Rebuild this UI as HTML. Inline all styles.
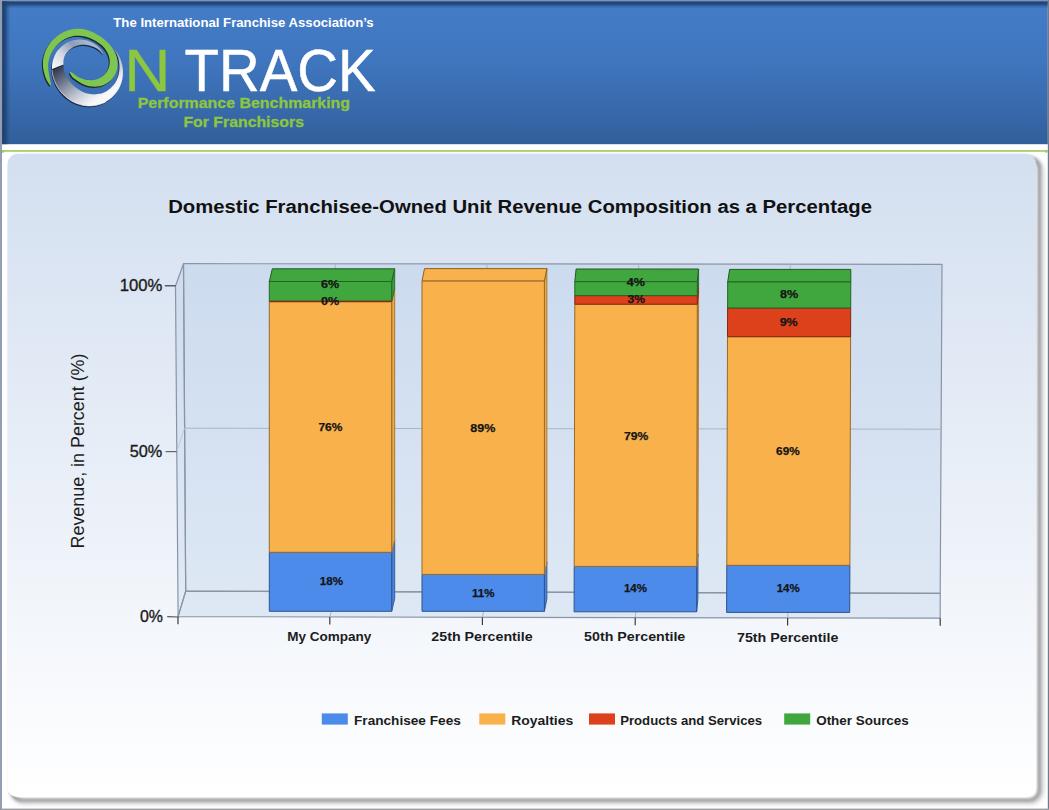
<!DOCTYPE html>
<html><head><meta charset="utf-8"><title>On Track</title>
<style>
html,body{margin:0;padding:0;background:#fff;}
body{width:1049px;height:810px;overflow:hidden;position:relative;font-family:"Liberation Sans",sans-serif;}
svg text{font-family:"Liberation Sans",sans-serif;}
</style></head><body>
<svg width="1049" height="810" viewBox="0 0 1049 810" style="position:absolute;left:0;top:0">
<defs>
<linearGradient id="hdr" x1="0" y1="0" x2="0" y2="1"><stop offset="0" stop-color="#447dc8"/><stop offset="0.45" stop-color="#3f75bd"/><stop offset="1" stop-color="#325f9c"/></linearGradient>
<linearGradient id="hdrTop" x1="0" y1="0" x2="0" y2="1"><stop offset="0" stop-color="#204574" stop-opacity="0.55"/><stop offset="0.14" stop-color="#204574" stop-opacity="1"/><stop offset="0.36" stop-color="#204574" stop-opacity="0.93"/><stop offset="0.7" stop-color="#204574" stop-opacity="0.33"/><stop offset="1" stop-color="#204574" stop-opacity="0"/></linearGradient>
<linearGradient id="hdrLeft" x1="0" y1="0" x2="1" y2="0"><stop offset="0" stop-color="#1f4272" stop-opacity="0.7"/><stop offset="0.2" stop-color="#1f4272" stop-opacity="1"/><stop offset="0.38" stop-color="#1f4272" stop-opacity="0.9"/><stop offset="0.7" stop-color="#1f4272" stop-opacity="0.33"/><stop offset="1" stop-color="#1f4272" stop-opacity="0"/></linearGradient>
<linearGradient id="panel" x1="0" y1="0" x2="0" y2="1"><stop offset="0" stop-color="#d3dff0"/><stop offset="1" stop-color="#ffffff"/></linearGradient>
<filter id="sh" x="-5%" y="-5%" width="110%" height="110%"><feGaussianBlur stdDeviation="1.5"/></filter>
<filter id="sh2" x="-5%" y="-5%" width="110%" height="110%"><feGaussianBlur stdDeviation="2"/></filter>
<linearGradient id="silverTop" gradientUnits="userSpaceOnUse" x1="54" y1="68" x2="84" y2="38"><stop offset="0" stop-color="#f6f7f9"/><stop offset="0.35" stop-color="#d4dae3"/><stop offset="0.7" stop-color="#8f9cb3"/><stop offset="1" stop-color="#a9b8d0"/></linearGradient>
<linearGradient id="silverBot" gradientUnits="userSpaceOnUse" x1="57" y1="66" x2="88" y2="108"><stop offset="0" stop-color="#2b3447"/><stop offset="0.22" stop-color="#596277"/><stop offset="0.45" stop-color="#8f98a9"/><stop offset="0.7" stop-color="#c6ccd6"/><stop offset="0.9" stop-color="#eceef2"/><stop offset="1" stop-color="#f7f8fa"/></linearGradient>
<filter id="lsh" x="-10%" y="-10%" width="120%" height="120%"><feGaussianBlur stdDeviation="0.55"/></filter>
</defs>
<rect x="0" y="0" width="1049" height="810" fill="#ffffff"/>
<rect x="1.5" y="0.8" width="1046.3" height="143.4" fill="url(#hdr)"/>
<rect x="1.5" y="1.2" width="1046.3" height="7.4" fill="url(#hdrTop)"/>
<rect x="1.8" y="0.8" width="8.7" height="143.4" fill="url(#hdrLeft)"/>
<rect x="0" y="0" width="1049" height="1.1" fill="#8392ae"/>
<rect x="0" y="0" width="2.0" height="810" fill="#959eb1"/>
<rect x="1047.8" y="0" width="1.2" height="810" fill="#717a8c"/>
<rect x="0" y="808.6" width="1049" height="1.4" fill="#9a9ca1"/>
<rect x="2.0" y="150.2" width="1045.8" height="1.5" fill="#93c753"/>
<rect x="2.0" y="150.2" width="1.6" height="2.6" fill="#93c753"/>
<rect x="1045.6" y="150.2" width="1.6" height="2.6" fill="#93c753"/>
<rect x="13" y="159.5" width="1028.6" height="642.8" rx="11.5" ry="11.5" fill="none" stroke="#c9c9cd" stroke-width="3.6" filter="url(#sh2)"/>
<rect x="11.5" y="158" width="1027.8" height="642.1" rx="10.5" ry="10.5" fill="none" stroke="#98989c" stroke-width="3.4" filter="url(#sh)"/>
<rect x="7.5" y="153.8" width="1028.6" height="643.4" rx="10" ry="10" fill="url(#panel)"/>
<g stroke-linejoin="round">
<polygon points="183.5,263.7 942.0,264.3 940.2,593.4 185.7,591.1" fill="rgba(165,191,228,0.25)" stroke="#8a94a6" stroke-width="1.2"/>
<polygon points="175.5,286.0 183.5,263.7 185.7,591.1 178.1,616.6" fill="rgba(165,191,228,0.22)" stroke="#8a94a6" stroke-width="1.2"/>
<polygon points="185.7,591.1 940.2,593.4 940.2,618.2 178.1,616.6" fill="rgba(165,191,228,0.25)" stroke="#8a94a6" stroke-width="1.2"/>
<g stroke="#aab4c4" stroke-width="1" fill="none">
<line x1="184.4" y1="428.2" x2="941.1" y2="429.2"/>
<line x1="176.8" y1="451.5" x2="184.4" y2="428.2" stroke="#c0c8d6"/>
<line x1="335.2" y1="263.8" x2="336.6" y2="591.6"/>
<line x1="336.6" y1="591.6" x2="329.8" y2="616.9"/>
<line x1="486.9" y1="263.9" x2="487.5" y2="592.0"/>
<line x1="487.5" y1="592.0" x2="482.4" y2="617.2"/>
<line x1="638.6" y1="264.1" x2="638.4" y2="592.5"/>
<line x1="638.4" y1="592.5" x2="635.2" y2="617.6"/>
<line x1="790.3" y1="264.2" x2="789.3" y2="592.9"/>
<line x1="789.3" y1="592.9" x2="787.6" y2="617.9"/>
</g>
</g>
<g stroke="#3a3a3a" stroke-width="1.2">
<line x1="164.8" y1="285.8" x2="175.6" y2="285.8"/>
<line x1="165.5" y1="451.6" x2="176.8" y2="451.6" stroke="#666"/>
<line x1="167.2" y1="616.6" x2="178.1" y2="617.0" stroke="#555"/>
<line x1="178.0" y1="616.8" x2="178.0" y2="624.3"/>
<line x1="329.8" y1="617.1" x2="329.8" y2="624.6"/>
<line x1="482.4" y1="617.4" x2="482.4" y2="624.9"/>
<line x1="635.2" y1="617.7" x2="635.2" y2="625.2"/>
<line x1="787.6" y1="618.0" x2="787.6" y2="625.5"/>
<line x1="940.2" y1="618.3" x2="940.2" y2="625.8"/>
</g>
<g stroke-width="1" stroke-linejoin="round">
<polygon points="391.7,552.3 394.7,539.6 394.7,598.6 391.7,611.3" fill="#4884de" stroke="#3561a3"/>
<polygon points="391.7,301.3 394.7,288.6 394.7,539.6 391.7,552.3" fill="#eca847" stroke="#ae7b34"/>
<polygon points="391.7,281.5 394.7,268.8 394.7,288.6 391.7,301.3" fill="#3c9e3b" stroke="#2c742c"/>
<polygon points="269.3,281.5 272.3,268.8 394.7,268.8 391.7,281.5" fill="#40a73f" stroke="#235b22"/>
<polygon points="269.3,552.3 391.7,552.3 391.7,611.3 269.3,611.3" fill="#4c8bea" stroke="#2d538c"/>
<polygon points="269.3,301.3 391.7,301.3 391.7,552.3 269.3,552.3" fill="#f9b14b" stroke="#956a2d"/>
<polygon points="269.3,281.5 391.7,281.5 391.7,301.3 269.3,301.3" fill="#40a73f" stroke="#266425"/>
<line x1="269.8" y1="301.5" x2="391.2" y2="301.5" stroke="#892811" stroke-width="1.4"/>
<polygon points="544.4,574.4 546.9,561.9 546.9,598.8 544.4,611.3" fill="#4884de" stroke="#3561a3"/>
<polygon points="544.4,281.1 546.9,268.6 546.9,561.9 544.4,574.4" fill="#eca847" stroke="#ae7b34"/>
<polygon points="422.0,281.1 424.5,268.6 546.9,268.6 544.4,281.1" fill="#f9b14b" stroke="#886129"/>
<polygon points="422.0,574.4 544.4,574.4 544.4,611.3 422.0,611.3" fill="#4c8bea" stroke="#2d538c"/>
<polygon points="422.0,281.1 544.4,281.1 544.4,574.4 422.0,574.4" fill="#f9b14b" stroke="#956a2d"/>
<polygon points="696.7,566.4 698.0,553.7 697.9,599.1 696.6,611.8" fill="#4884de" stroke="#3561a3"/>
<polygon points="697.3,304.2 698.6,291.5 698.0,553.7 696.7,566.4" fill="#eca847" stroke="#ae7b34"/>
<polygon points="697.3,295.6 698.6,282.9 698.6,291.5 697.3,304.2" fill="#d13d1a" stroke="#9a2d13"/>
<polygon points="697.3,281.7 698.6,269.0 698.6,282.9 697.3,295.6" fill="#3c9e3b" stroke="#2c742c"/>
<polygon points="574.8,281.7 576.1,269.0 698.6,269.0 697.3,281.7" fill="#40a73f" stroke="#235b22"/>
<polygon points="574.2,566.4 696.7,566.4 696.6,611.8 574.1,611.8" fill="#4c8bea" stroke="#2d538c"/>
<polygon points="574.8,304.2 697.3,304.2 696.7,566.4 574.2,566.4" fill="#f9b14b" stroke="#956a2d"/>
<polygon points="574.8,295.6 697.3,295.6 697.3,304.2 574.8,304.2" fill="#dd411c" stroke="#842710"/>
<polygon points="574.8,281.7 697.3,281.7 697.3,295.6 574.8,295.6" fill="#40a73f" stroke="#266425"/>
<polygon points="727.7,282.0 729.6,269.4 850.8,269.4 850.8,282.0" fill="#40a73f" stroke="#235b22"/>
<polygon points="726.8,565.3 849.9,565.3 849.7,612.4 726.6,612.4" fill="#4c8bea" stroke="#2d538c"/>
<polygon points="727.5,336.7 850.6,336.7 849.9,565.3 726.8,565.3" fill="#f9b14b" stroke="#956a2d"/>
<polygon points="727.6,308.0 850.7,308.0 850.6,336.7 727.5,336.7" fill="#dd411c" stroke="#842710"/>
<polygon points="727.7,282.0 850.8,282.0 850.7,308.0 727.6,308.0" fill="#40a73f" stroke="#266425"/>
</g>
<g font-family="Liberation Sans, sans-serif" font-weight="bold" font-size="11.3px" fill="#151515" stroke="#151515" stroke-width="0.25" text-anchor="middle">
<text x="330.2" y="288.2" textLength="18.2" lengthAdjust="spacingAndGlyphs">6%</text>
<text x="330.2" y="304.6" textLength="18.2" lengthAdjust="spacingAndGlyphs">0%</text>
<text x="330.4" y="431.0" textLength="24.0" lengthAdjust="spacingAndGlyphs">76%</text>
<text x="331.5" y="584.9" textLength="23.3" lengthAdjust="spacingAndGlyphs">18%</text>
<text x="482.9" y="432.0" textLength="25.1" lengthAdjust="spacingAndGlyphs">89%</text>
<text x="483.2" y="596.5" textLength="22.6" lengthAdjust="spacingAndGlyphs">11%</text>
<text x="635.9" y="286.1" textLength="18.2" lengthAdjust="spacingAndGlyphs">4%</text>
<text x="636.2" y="303.1" textLength="17.6" lengthAdjust="spacingAndGlyphs">3%</text>
<text x="636.1" y="439.5" textLength="24.3" lengthAdjust="spacingAndGlyphs">79%</text>
<text x="635.5" y="592.0" textLength="23.1" lengthAdjust="spacingAndGlyphs">14%</text>
<text x="789.0" y="298.3" textLength="18.2" lengthAdjust="spacingAndGlyphs">8%</text>
<text x="788.7" y="326.0" textLength="18.1" lengthAdjust="spacingAndGlyphs">9%</text>
<text x="787.9" y="455.0" textLength="23.6" lengthAdjust="spacingAndGlyphs">69%</text>
<text x="788.2" y="592.0" textLength="23.0" lengthAdjust="spacingAndGlyphs">14%</text>
</g>
<text x="520.1" y="213.3" font-family="Liberation Sans, sans-serif" font-weight="bold" font-size="18px" fill="#111" text-anchor="middle" textLength="703.8" lengthAdjust="spacingAndGlyphs">Domestic Franchisee-Owned Unit Revenue Composition as a Percentage</text>
<g font-family="Liberation Sans, sans-serif" font-size="16.5px" fill="#1c1c1c" text-anchor="end" stroke="#1c1c1c" stroke-width="0.35">
<text x="162.3" y="291.1" textLength="42.6" lengthAdjust="spacingAndGlyphs">100%</text>
<text x="162.3" y="457" textLength="32.6" lengthAdjust="spacingAndGlyphs">50%</text>
<text x="163" y="622.3" textLength="23.0" lengthAdjust="spacingAndGlyphs">0%</text>
</g>
<text transform="translate(84.4,451) rotate(-90)" font-family="Liberation Sans, sans-serif" font-size="17.9px" fill="#1c1c1c" text-anchor="middle">Revenue, in Percent (%)</text>
<g font-family="Liberation Sans, sans-serif" font-weight="bold" font-size="12.5px" fill="#1c1c1c" text-anchor="middle">
<text x="329.3" y="640.7" textLength="84.2" lengthAdjust="spacingAndGlyphs">My Company</text>
<text x="482.0" y="640.9" textLength="101.4" lengthAdjust="spacingAndGlyphs">25th Percentile</text>
<text x="634.7" y="641.0" textLength="101.2" lengthAdjust="spacingAndGlyphs">50th Percentile</text>
<text x="787.7" y="641.6" textLength="101.4" lengthAdjust="spacingAndGlyphs">75th Percentile</text>
</g>
<g font-family="Liberation Sans, sans-serif" font-weight="bold" font-size="12.5px" fill="#1c1c1c">
<rect x="321.8" y="713.4" width="26" height="11.2" fill="#4c8bea"/>
<text x="354.0" y="724.6" textLength="106.8" lengthAdjust="spacingAndGlyphs">Franchisee Fees</text>
<rect x="479.3" y="713.4" width="26" height="11.2" fill="#f9b14b"/>
<text x="511.2" y="724.6" textLength="62.0" lengthAdjust="spacingAndGlyphs">Royalties</text>
<rect x="589.0" y="713.4" width="26" height="11.2" fill="#dd411c"/>
<text x="620.2" y="724.6" textLength="141.9" lengthAdjust="spacingAndGlyphs">Products and Services</text>
<rect x="784.2" y="713.4" width="26" height="11.2" fill="#40a73f"/>
<text x="816.2" y="724.6" textLength="92.6" lengthAdjust="spacingAndGlyphs">Other Sources</text>
</g>
<text x="113.3" y="26.8" font-family="Liberation Sans, sans-serif" font-weight="bold" font-size="13px" fill="#ffffff" textLength="260.4" lengthAdjust="spacingAndGlyphs">The International Franchise Association’s</text>
<text transform="translate(124.3,91) scale(1.065,1)" font-family="Liberation Sans, sans-serif" font-size="60px" fill="#8dc63f" stroke="#8dc63f" stroke-width="0.4">N</text>
<text x="184.6" y="91" font-family="Liberation Sans, sans-serif" font-size="60px" fill="#ffffff" stroke="#ffffff" stroke-width="0.5" textLength="191.0" lengthAdjust="spacingAndGlyphs">TRACK</text>
<text x="243.9" y="108.2" font-family="Liberation Sans, sans-serif" font-weight="bold" font-size="15px" fill="#8dc63f" stroke="#8dc63f" stroke-width="0.3" text-anchor="middle" textLength="212.4" lengthAdjust="spacingAndGlyphs">Performance Benchmarking</text>
<text x="243.7" y="126.8" font-family="Liberation Sans, sans-serif" font-weight="bold" font-size="15px" fill="#8dc63f" stroke="#8dc63f" stroke-width="0.3" text-anchor="middle" textLength="120.6" lengthAdjust="spacingAndGlyphs">For Franchisors</text>
<g>
<path d="M52.00,69.00 C52.06,69.66 52.17,71.66 52.36,72.96 C52.56,74.27 52.84,75.56 53.18,76.83 C53.51,78.10 53.91,79.35 54.37,80.57 C54.82,81.79 55.34,82.98 55.91,84.14 C56.49,85.30 57.12,86.44 57.79,87.53 C58.47,88.63 59.21,89.69 59.98,90.71 C60.76,91.73 61.59,92.72 62.47,93.66 C63.34,94.60 64.26,95.50 65.22,96.36 C66.18,97.21 67.19,98.02 68.23,98.78 C69.27,99.53 70.35,100.24 71.47,100.89 C72.59,101.54 73.74,102.14 74.93,102.68 C76.11,103.21 77.33,103.69 78.57,104.10 C79.81,104.51 81.08,104.86 82.36,105.14 C83.65,105.41 84.96,105.62 86.27,105.75 C87.58,105.88 88.92,105.94 90.24,105.92 C91.57,105.90 92.91,105.80 94.23,105.62 C95.55,105.45 96.87,105.19 98.17,104.86 C99.46,104.52 100.75,104.11 102.00,103.62 C103.25,103.13 104.47,102.56 105.66,101.92 C106.84,101.28 107.99,100.56 109.08,99.78 C110.17,99.00 111.23,98.15 112.21,97.24 C113.20,96.33 114.14,95.35 115.00,94.33 C115.87,93.31 116.68,92.23 117.41,91.11 C118.14,90.00 118.81,88.83 119.40,87.64 C119.99,86.45 120.51,85.22 120.95,83.98 C121.40,82.74 121.76,81.46 122.06,80.18 C122.35,78.90 122.57,77.60 122.72,76.31 C122.86,75.01 122.93,73.71 122.94,72.42 C122.94,71.12 122.87,69.83 122.73,68.55 C122.60,67.27 122.39,66.00 122.13,64.76 C121.86,63.51 121.53,62.28 121.14,61.07 C120.75,59.87 120.30,58.68 119.79,57.53 C119.29,56.37 118.72,55.24 118.11,54.15 C117.50,53.05 116.84,51.98 116.12,50.96 C115.40,49.93 114.19,48.49 113.80,48.00 C114.18,48.70 115.40,50.76 116.06,52.18 C116.72,53.60 117.29,55.05 117.76,56.51 C118.23,57.97 118.61,59.46 118.89,60.94 C119.17,62.43 119.35,63.93 119.43,65.41 C119.51,66.90 119.50,68.39 119.37,69.86 C119.25,71.32 119.03,72.78 118.70,74.19 C118.37,75.60 117.94,77.00 117.41,78.33 C116.88,79.66 116.25,80.96 115.53,82.17 C114.81,83.38 113.99,84.55 113.09,85.61 C112.20,86.68 111.22,87.67 110.18,88.56 C109.14,89.45 108.03,90.25 106.88,90.95 C105.74,91.64 104.53,92.23 103.32,92.71 C102.11,93.20 100.85,93.57 99.61,93.85 C98.37,94.13 97.11,94.29 95.88,94.37 C94.65,94.45 93.42,94.43 92.24,94.33 C91.05,94.24 89.89,94.05 88.77,93.81 C87.65,93.56 86.56,93.24 85.52,92.88 C84.47,92.51 83.47,92.09 82.51,91.63 C81.55,91.18 80.63,90.67 79.75,90.15 C78.86,89.62 78.02,89.06 77.20,88.48 C76.38,87.90 75.59,87.29 74.83,86.65 C74.06,86.01 73.33,85.35 72.61,84.66 C71.90,83.97 71.20,83.25 70.54,82.49 C69.87,81.73 69.22,80.94 68.61,80.11 C68.00,79.27 67.42,78.40 66.88,77.48 C66.35,76.56 65.85,75.59 65.42,74.58 C64.98,73.57 64.60,72.51 64.30,71.42 C64.00,70.33 63.76,69.19 63.63,68.03 C63.49,66.88 63.52,65.09 63.50,64.50 Z" fill="#18213a" opacity="0.9" transform="translate(-0.9,1.3)" filter="url(#lsh)"/>
<path d="M52.00,69.00 C52.06,69.66 52.17,71.66 52.36,72.96 C52.56,74.27 52.84,75.56 53.18,76.83 C53.51,78.10 53.91,79.35 54.37,80.57 C54.82,81.79 55.34,82.98 55.91,84.14 C56.49,85.30 57.12,86.44 57.79,87.53 C58.47,88.63 59.21,89.69 59.98,90.71 C60.76,91.73 61.59,92.72 62.47,93.66 C63.34,94.60 64.26,95.50 65.22,96.36 C66.18,97.21 67.19,98.02 68.23,98.78 C69.27,99.53 70.35,100.24 71.47,100.89 C72.59,101.54 73.74,102.14 74.93,102.68 C76.11,103.21 77.33,103.69 78.57,104.10 C79.81,104.51 81.08,104.86 82.36,105.14 C83.65,105.41 84.96,105.62 86.27,105.75 C87.58,105.88 88.92,105.94 90.24,105.92 C91.57,105.90 92.91,105.80 94.23,105.62 C95.55,105.45 96.87,105.19 98.17,104.86 C99.46,104.52 100.75,104.11 102.00,103.62 C103.25,103.13 104.47,102.56 105.66,101.92 C106.84,101.28 107.99,100.56 109.08,99.78 C110.17,99.00 111.23,98.15 112.21,97.24 C113.20,96.33 114.14,95.35 115.00,94.33 C115.87,93.31 116.68,92.23 117.41,91.11 C118.14,90.00 118.81,88.83 119.40,87.64 C119.99,86.45 120.51,85.22 120.95,83.98 C121.40,82.74 121.76,81.46 122.06,80.18 C122.35,78.90 122.57,77.60 122.72,76.31 C122.86,75.01 122.93,73.71 122.94,72.42 C122.94,71.12 122.87,69.83 122.73,68.55 C122.60,67.27 122.39,66.00 122.13,64.76 C121.86,63.51 121.53,62.28 121.14,61.07 C120.75,59.87 120.30,58.68 119.79,57.53 C119.29,56.37 118.72,55.24 118.11,54.15 C117.50,53.05 116.84,51.98 116.12,50.96 C115.40,49.93 114.19,48.49 113.80,48.00 C114.18,48.70 115.40,50.76 116.06,52.18 C116.72,53.60 117.29,55.05 117.76,56.51 C118.23,57.97 118.61,59.46 118.89,60.94 C119.17,62.43 119.35,63.93 119.43,65.41 C119.51,66.90 119.50,68.39 119.37,69.86 C119.25,71.32 119.03,72.78 118.70,74.19 C118.37,75.60 117.94,77.00 117.41,78.33 C116.88,79.66 116.25,80.96 115.53,82.17 C114.81,83.38 113.99,84.55 113.09,85.61 C112.20,86.68 111.22,87.67 110.18,88.56 C109.14,89.45 108.03,90.25 106.88,90.95 C105.74,91.64 104.53,92.23 103.32,92.71 C102.11,93.20 100.85,93.57 99.61,93.85 C98.37,94.13 97.11,94.29 95.88,94.37 C94.65,94.45 93.42,94.43 92.24,94.33 C91.05,94.24 89.89,94.05 88.77,93.81 C87.65,93.56 86.56,93.24 85.52,92.88 C84.47,92.51 83.47,92.09 82.51,91.63 C81.55,91.18 80.63,90.67 79.75,90.15 C78.86,89.62 78.02,89.06 77.20,88.48 C76.38,87.90 75.59,87.29 74.83,86.65 C74.06,86.01 73.33,85.35 72.61,84.66 C71.90,83.97 71.20,83.25 70.54,82.49 C69.87,81.73 69.22,80.94 68.61,80.11 C68.00,79.27 67.42,78.40 66.88,77.48 C66.35,76.56 65.85,75.59 65.42,74.58 C64.98,73.57 64.60,72.51 64.30,71.42 C64.00,70.33 63.76,69.19 63.63,68.03 C63.49,66.88 63.52,65.09 63.50,64.50 Z" fill="url(#silverBot)"/>
<path d="M52.00,69.00 C52.06,69.66 52.17,71.66 52.36,72.96 C52.56,74.27 52.84,75.56 53.18,76.83 C53.51,78.10 53.91,79.35 54.37,80.57 C54.82,81.79 55.34,82.98 55.91,84.14 C56.49,85.30 57.12,86.44 57.79,87.53 C58.47,88.63 59.21,89.69 59.98,90.71 C60.76,91.73 61.59,92.72 62.47,93.66 C63.34,94.60 64.26,95.50 65.22,96.36 C66.18,97.21 67.19,98.02 68.23,98.78 C69.27,99.53 70.35,100.24 71.47,100.89 C72.59,101.54 73.74,102.14 74.93,102.68 C76.11,103.21 77.33,103.69 78.57,104.10 C79.81,104.51 81.08,104.86 82.36,105.14 C83.65,105.41 84.96,105.62 86.27,105.75 C87.58,105.88 88.92,105.94 90.24,105.92 C91.57,105.90 92.91,105.80 94.23,105.62 C95.55,105.45 96.87,105.19 98.17,104.86 C99.46,104.52 100.75,104.11 102.00,103.62 C103.25,103.13 105.05,102.20 105.66,101.92" fill="none" stroke="#ffffff" stroke-width="0.8" stroke-opacity="0.75"/>
<path d="M52.00,69.00 C52.01,68.31 51.95,66.24 52.08,64.88 C52.21,63.52 52.44,62.16 52.76,60.85 C53.09,59.53 53.51,58.23 54.01,56.99 C54.51,55.74 55.11,54.53 55.78,53.37 C56.45,52.22 57.21,51.11 58.04,50.07 C58.86,49.03 59.76,48.05 60.72,47.14 C61.67,46.24 62.70,45.40 63.77,44.64 C64.84,43.88 65.97,43.20 67.13,42.60 C68.29,42.01 69.50,41.49 70.73,41.07 C71.95,40.64 73.22,40.31 74.49,40.06 C75.76,39.82 77.06,39.66 78.35,39.60 C79.64,39.53 80.94,39.56 82.23,39.68 C83.51,39.81 84.80,40.02 86.05,40.32 C87.30,40.62 88.54,41.02 89.73,41.49 C90.93,41.97 92.10,42.54 93.22,43.18 C94.33,43.82 95.41,44.55 96.42,45.35 C97.43,46.14 98.39,47.02 99.28,47.96 C100.17,48.89 101.00,49.90 101.74,50.96 C102.47,52.01 103.37,53.74 103.70,54.30 C103.26,53.88 101.95,52.54 101.05,51.75 C100.15,50.96 99.24,50.23 98.30,49.58 C97.36,48.92 96.39,48.33 95.41,47.82 C94.43,47.30 93.42,46.85 92.42,46.47 C91.42,46.09 90.40,45.78 89.39,45.53 C88.38,45.28 87.36,45.10 86.36,44.98 C85.35,44.86 84.34,44.80 83.36,44.81 C82.37,44.81 81.39,44.88 80.43,45.01 C79.48,45.13 78.54,45.32 77.62,45.56 C76.71,45.80 75.82,46.10 74.96,46.45 C74.11,46.79 73.27,47.20 72.49,47.65 C71.70,48.10 70.94,48.61 70.24,49.15 C69.53,49.69 68.86,50.29 68.25,50.91 C67.64,51.54 67.07,52.21 66.57,52.90 C66.06,53.59 65.60,54.33 65.21,55.07 C64.82,55.82 64.49,56.60 64.22,57.38 C63.95,58.16 63.75,58.97 63.61,59.76 C63.47,60.56 63.40,61.37 63.39,62.16 C63.37,62.95 63.48,64.11 63.50,64.50 Z" fill="#18213a" opacity="0.9" transform="translate(-0.6,1.2)" filter="url(#lsh)"/>
<path d="M52.00,69.00 C52.01,68.31 51.95,66.24 52.08,64.88 C52.21,63.52 52.44,62.16 52.76,60.85 C53.09,59.53 53.51,58.23 54.01,56.99 C54.51,55.74 55.11,54.53 55.78,53.37 C56.45,52.22 57.21,51.11 58.04,50.07 C58.86,49.03 59.76,48.05 60.72,47.14 C61.67,46.24 62.70,45.40 63.77,44.64 C64.84,43.88 65.97,43.20 67.13,42.60 C68.29,42.01 69.50,41.49 70.73,41.07 C71.95,40.64 73.22,40.31 74.49,40.06 C75.76,39.82 77.06,39.66 78.35,39.60 C79.64,39.53 80.94,39.56 82.23,39.68 C83.51,39.81 84.80,40.02 86.05,40.32 C87.30,40.62 88.54,41.02 89.73,41.49 C90.93,41.97 92.10,42.54 93.22,43.18 C94.33,43.82 95.41,44.55 96.42,45.35 C97.43,46.14 98.39,47.02 99.28,47.96 C100.17,48.89 101.00,49.90 101.74,50.96 C102.47,52.01 103.37,53.74 103.70,54.30 C103.26,53.88 101.95,52.54 101.05,51.75 C100.15,50.96 99.24,50.23 98.30,49.58 C97.36,48.92 96.39,48.33 95.41,47.82 C94.43,47.30 93.42,46.85 92.42,46.47 C91.42,46.09 90.40,45.78 89.39,45.53 C88.38,45.28 87.36,45.10 86.36,44.98 C85.35,44.86 84.34,44.80 83.36,44.81 C82.37,44.81 81.39,44.88 80.43,45.01 C79.48,45.13 78.54,45.32 77.62,45.56 C76.71,45.80 75.82,46.10 74.96,46.45 C74.11,46.79 73.27,47.20 72.49,47.65 C71.70,48.10 70.94,48.61 70.24,49.15 C69.53,49.69 68.86,50.29 68.25,50.91 C67.64,51.54 67.07,52.21 66.57,52.90 C66.06,53.59 65.60,54.33 65.21,55.07 C64.82,55.82 64.49,56.60 64.22,57.38 C63.95,58.16 63.75,58.97 63.61,59.76 C63.47,60.56 63.40,61.37 63.39,62.16 C63.37,62.95 63.48,64.11 63.50,64.50 Z" fill="url(#silverTop)"/>
<path d="M50.50,85.50 C50.23,85.20 49.60,84.75 48.90,83.70 C48.20,82.65 47.07,80.92 46.30,79.20 C45.53,77.48 44.82,75.23 44.30,73.40 C43.78,71.57 43.40,69.94 43.17,68.20 C42.93,66.47 42.85,64.70 42.89,62.98 C42.94,61.25 43.14,59.53 43.44,57.87 C43.75,56.20 44.21,54.57 44.75,53.01 C45.29,51.45 45.96,49.94 46.70,48.51 C47.44,47.08 48.28,45.71 49.17,44.43 C50.07,43.15 51.05,41.94 52.06,40.81 C53.08,39.68 54.16,38.63 55.27,37.65 C56.38,36.67 57.55,35.77 58.74,34.95 C59.92,34.13 61.15,33.39 62.40,32.73 C63.65,32.06 64.93,31.48 66.23,30.98 C67.53,30.48 68.85,30.06 70.18,29.73 C71.51,29.40 72.86,29.16 74.20,29.01 C75.55,28.85 76.90,28.78 78.24,28.80 C79.57,28.82 80.91,28.92 82.22,29.10 C83.53,29.28 84.83,29.54 86.11,29.86 C87.38,30.19 88.63,30.59 89.86,31.03 C91.09,31.48 92.30,32.00 93.49,32.56 C94.69,33.12 95.86,33.73 97.02,34.39 C98.18,35.05 99.33,35.76 100.47,36.53 C101.61,37.30 102.74,38.12 103.86,39.01 C104.97,39.90 106.09,40.85 107.16,41.89 C108.24,42.93 109.31,44.04 110.30,45.25 C111.30,46.46 112.27,47.75 113.13,49.14 C113.98,50.53 114.79,52.02 115.44,53.57 C116.08,55.13 116.64,56.79 117.00,58.47 C117.36,60.15 117.59,61.93 117.60,63.67 C117.62,65.41 117.45,67.22 117.08,68.93 C116.71,70.64 116.13,72.37 115.37,73.95 C114.61,75.53 113.64,77.07 112.53,78.42 C111.41,79.77 110.10,81.02 108.71,82.06 C107.32,83.11 105.75,83.99 104.18,84.68 C102.60,85.37 100.91,85.87 99.26,86.20 C97.61,86.52 95.90,86.65 94.27,86.64 C92.64,86.63 91.02,86.43 89.49,86.15 C87.97,85.86 86.50,85.42 85.13,84.93 C83.77,84.45 82.48,83.84 81.30,83.23 C80.11,82.62 79.02,81.95 78.00,81.27 C76.99,80.60 76.15,79.93 75.20,79.20 C74.25,78.47 73.12,77.80 72.30,76.90 C71.48,76.00 70.68,74.67 70.30,73.80 C69.92,72.93 70.05,72.05 70.00,71.70 C70.38,71.90 70.97,72.03 72.30,72.90 C73.63,73.77 76.56,76.00 78.00,76.90 C79.44,77.80 79.88,77.87 80.92,78.29 C81.96,78.71 83.08,79.11 84.25,79.41 C85.43,79.71 86.69,79.97 87.99,80.09 C89.29,80.22 90.66,80.27 92.04,80.16 C93.41,80.04 94.85,79.82 96.23,79.42 C97.61,79.02 99.02,78.47 100.31,77.75 C101.60,77.04 102.87,76.15 103.97,75.14 C105.06,74.12 106.08,72.93 106.90,71.66 C107.71,70.39 108.39,68.97 108.86,67.54 C109.33,66.10 109.62,64.55 109.71,63.05 C109.81,61.55 109.70,59.99 109.45,58.52 C109.19,57.05 108.74,55.58 108.18,54.22 C107.62,52.87 106.90,51.57 106.12,50.38 C105.34,49.19 104.43,48.09 103.50,47.08 C102.58,46.08 101.57,45.18 100.57,44.36 C99.58,43.53 98.54,42.80 97.51,42.13 C96.49,41.45 95.45,40.86 94.42,40.30 C93.39,39.75 92.36,39.25 91.33,38.79 C90.29,38.34 89.26,37.93 88.21,37.56 C87.17,37.19 86.11,36.86 85.04,36.59 C83.97,36.32 82.88,36.09 81.78,35.94 C80.68,35.78 79.55,35.68 78.43,35.65 C77.30,35.63 76.15,35.67 75.01,35.80 C73.87,35.92 72.71,36.12 71.58,36.40 C70.44,36.69 69.30,37.05 68.18,37.49 C67.06,37.93 65.95,38.45 64.87,39.04 C63.79,39.63 62.72,40.30 61.68,41.05 C60.64,41.79 59.61,42.61 58.63,43.51 C57.65,44.41 56.68,45.39 55.78,46.45 C54.87,47.51 53.99,48.65 53.19,49.88 C52.39,51.11 51.63,52.42 50.98,53.81 C50.34,55.20 49.75,56.69 49.30,58.23 C48.86,59.77 48.50,61.40 48.31,63.06 C48.12,64.71 48.06,66.44 48.15,68.17 C48.25,69.89 48.61,71.59 48.90,73.40 C49.19,75.21 49.57,77.23 49.90,79.00 C50.23,80.77 50.80,82.92 50.90,84.00 C51.00,85.08 50.57,85.25 50.50,85.50 Z" fill="#1b2418" opacity="0.9" transform="translate(-1.0,1.3)" filter="url(#lsh)"/>
<path d="M50.50,85.50 C50.23,85.20 49.60,84.75 48.90,83.70 C48.20,82.65 47.07,80.92 46.30,79.20 C45.53,77.48 44.82,75.23 44.30,73.40 C43.78,71.57 43.40,69.94 43.17,68.20 C42.93,66.47 42.85,64.70 42.89,62.98 C42.94,61.25 43.14,59.53 43.44,57.87 C43.75,56.20 44.21,54.57 44.75,53.01 C45.29,51.45 45.96,49.94 46.70,48.51 C47.44,47.08 48.28,45.71 49.17,44.43 C50.07,43.15 51.05,41.94 52.06,40.81 C53.08,39.68 54.16,38.63 55.27,37.65 C56.38,36.67 57.55,35.77 58.74,34.95 C59.92,34.13 61.15,33.39 62.40,32.73 C63.65,32.06 64.93,31.48 66.23,30.98 C67.53,30.48 68.85,30.06 70.18,29.73 C71.51,29.40 72.86,29.16 74.20,29.01 C75.55,28.85 76.90,28.78 78.24,28.80 C79.57,28.82 80.91,28.92 82.22,29.10 C83.53,29.28 84.83,29.54 86.11,29.86 C87.38,30.19 88.63,30.59 89.86,31.03 C91.09,31.48 92.30,32.00 93.49,32.56 C94.69,33.12 95.86,33.73 97.02,34.39 C98.18,35.05 99.33,35.76 100.47,36.53 C101.61,37.30 102.74,38.12 103.86,39.01 C104.97,39.90 106.09,40.85 107.16,41.89 C108.24,42.93 109.31,44.04 110.30,45.25 C111.30,46.46 112.27,47.75 113.13,49.14 C113.98,50.53 114.79,52.02 115.44,53.57 C116.08,55.13 116.64,56.79 117.00,58.47 C117.36,60.15 117.59,61.93 117.60,63.67 C117.62,65.41 117.45,67.22 117.08,68.93 C116.71,70.64 116.13,72.37 115.37,73.95 C114.61,75.53 113.64,77.07 112.53,78.42 C111.41,79.77 110.10,81.02 108.71,82.06 C107.32,83.11 105.75,83.99 104.18,84.68 C102.60,85.37 100.91,85.87 99.26,86.20 C97.61,86.52 95.90,86.65 94.27,86.64 C92.64,86.63 91.02,86.43 89.49,86.15 C87.97,85.86 86.50,85.42 85.13,84.93 C83.77,84.45 82.48,83.84 81.30,83.23 C80.11,82.62 79.02,81.95 78.00,81.27 C76.99,80.60 76.15,79.93 75.20,79.20 C74.25,78.47 73.12,77.80 72.30,76.90 C71.48,76.00 70.68,74.67 70.30,73.80 C69.92,72.93 70.05,72.05 70.00,71.70 C70.38,71.90 70.97,72.03 72.30,72.90 C73.63,73.77 76.56,76.00 78.00,76.90 C79.44,77.80 79.88,77.87 80.92,78.29 C81.96,78.71 83.08,79.11 84.25,79.41 C85.43,79.71 86.69,79.97 87.99,80.09 C89.29,80.22 90.66,80.27 92.04,80.16 C93.41,80.04 94.85,79.82 96.23,79.42 C97.61,79.02 99.02,78.47 100.31,77.75 C101.60,77.04 102.87,76.15 103.97,75.14 C105.06,74.12 106.08,72.93 106.90,71.66 C107.71,70.39 108.39,68.97 108.86,67.54 C109.33,66.10 109.62,64.55 109.71,63.05 C109.81,61.55 109.70,59.99 109.45,58.52 C109.19,57.05 108.74,55.58 108.18,54.22 C107.62,52.87 106.90,51.57 106.12,50.38 C105.34,49.19 104.43,48.09 103.50,47.08 C102.58,46.08 101.57,45.18 100.57,44.36 C99.58,43.53 98.54,42.80 97.51,42.13 C96.49,41.45 95.45,40.86 94.42,40.30 C93.39,39.75 92.36,39.25 91.33,38.79 C90.29,38.34 89.26,37.93 88.21,37.56 C87.17,37.19 86.11,36.86 85.04,36.59 C83.97,36.32 82.88,36.09 81.78,35.94 C80.68,35.78 79.55,35.68 78.43,35.65 C77.30,35.63 76.15,35.67 75.01,35.80 C73.87,35.92 72.71,36.12 71.58,36.40 C70.44,36.69 69.30,37.05 68.18,37.49 C67.06,37.93 65.95,38.45 64.87,39.04 C63.79,39.63 62.72,40.30 61.68,41.05 C60.64,41.79 59.61,42.61 58.63,43.51 C57.65,44.41 56.68,45.39 55.78,46.45 C54.87,47.51 53.99,48.65 53.19,49.88 C52.39,51.11 51.63,52.42 50.98,53.81 C50.34,55.20 49.75,56.69 49.30,58.23 C48.86,59.77 48.50,61.40 48.31,63.06 C48.12,64.71 48.06,66.44 48.15,68.17 C48.25,69.89 48.61,71.59 48.90,73.40 C49.19,75.21 49.57,77.23 49.90,79.00 C50.23,80.77 50.80,82.92 50.90,84.00 C51.00,85.08 50.57,85.25 50.50,85.50 Z" fill="#7fc651"/>
</g>
</svg>
</body></html>
